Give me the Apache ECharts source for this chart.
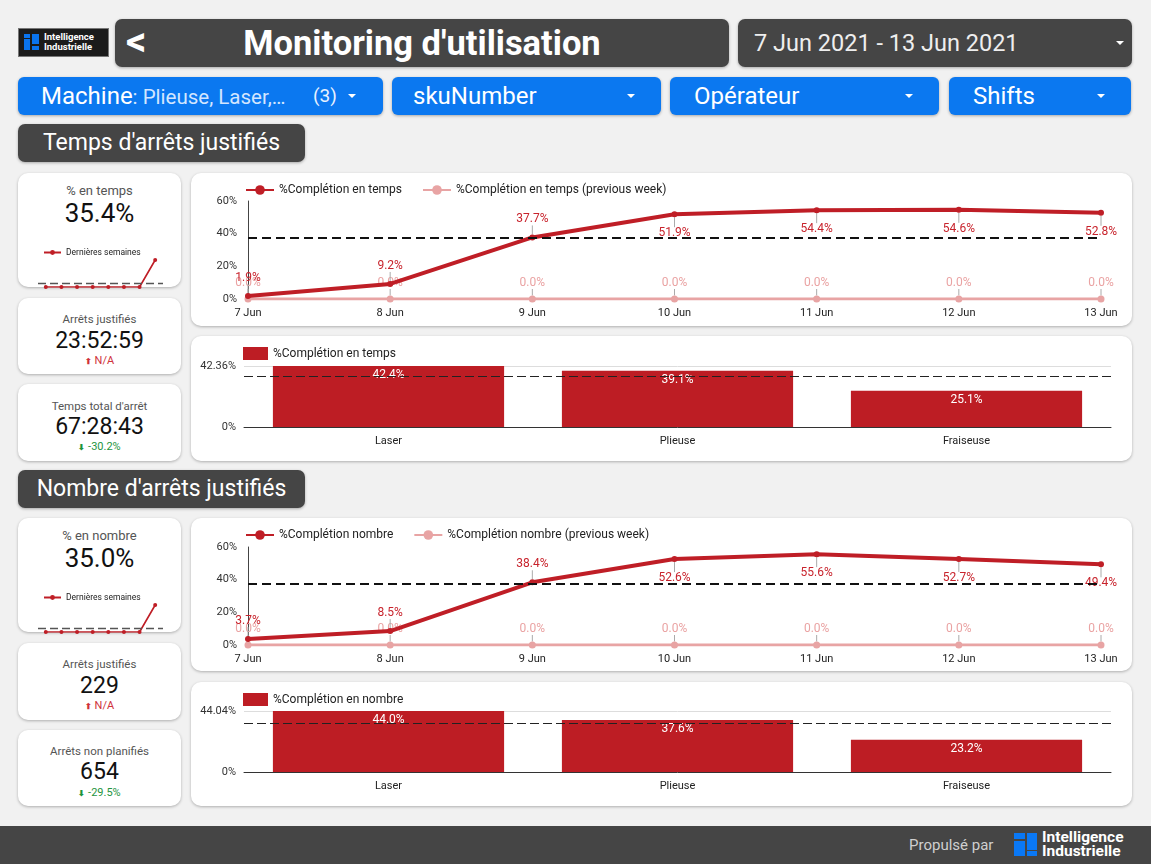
<!DOCTYPE html>
<html><head><meta charset="utf-8">
<script src="https://cdn.jsdelivr.net/npm/echarts@6/dist/echarts.min.js"></script>
<style>
*{box-sizing:border-box;margin:0;padding:0}
body{width:1151px;height:864px;background:#f1f1f1;font-family:Roboto,'Noto Sans',sans-serif;position:relative;overflow:hidden}
.abs{position:absolute}
.dark{background:#454545;border-radius:7px;color:#fff;box-shadow:0 1px 3px rgba(0,0,0,.3)}
.blue{background:#0b78f0;border-radius:6px;color:#fff;box-shadow:0 1px 3px rgba(0,0,0,.3)}
.card{background:#fff;border-radius:10px;box-shadow:0 1px 3px rgba(0,0,0,.28)}
.tri{position:absolute;width:0;height:0;border-left:4.5px solid transparent;border-right:4.5px solid transparent;border-top:4.5px solid #fff}
.kt{position:absolute;left:0;width:100%;text-align:center;line-height:1}
.blk{position:absolute;background:#0a74ee}
</style></head><body>

<!-- top logo -->
<div class="abs" style="left:18px;top:28px;width:91px;height:29px;background:#1b1b1b;border:1px solid #777">
  <div class="blk" style="left:5px;top:5px;width:6px;height:4px"></div>
  <div class="blk" style="left:5px;top:10px;width:6px;height:11px"></div>
  <div class="blk" style="left:13px;top:5px;width:7px;height:10px"></div>
  <div class="blk" style="left:13px;top:17px;width:7px;height:4px"></div>
  <div class="abs" style="left:25px;top:3px;color:#fff;font-weight:700;font-size:9.5px;line-height:10px">Intelligence<br>Industrielle</div>
</div>

<!-- title -->
<div class="abs dark" style="left:115px;top:19px;width:614px;height:48px">
  <div class="abs" style="left:11px;top:3px;font-size:40px;font-weight:700;line-height:40px">&lt;</div>
  <div class="abs" style="left:0;width:100%;top:5px;text-align:center;font-size:34.5px;font-weight:700;line-height:38px">Monitoring d'utilisation</div>
</div>
<div class="abs dark" style="left:738px;top:19px;width:394px;height:48px;color:#eee">
  <div class="abs" style="left:16px;top:10px;font-size:23.5px;line-height:28px">7 Jun 2021 - 13 Jun 2021</div>
  <div class="tri" style="left:378px;top:22px"></div>
</div>

<!-- filters -->
<div class="abs blue" style="left:18px;top:77px;width:365px;height:38px">
  <div class="abs" style="left:23px;top:5px;font-size:24px;line-height:28px;white-space:nowrap">Machine<span style="font-size:20.5px;color:#d3e6ff">: Plieuse, Laser,…</span></div>
  <div class="abs" style="left:295px;top:8px;font-size:19px;line-height:22px;color:#e8f1ff">(3)</div>
  <div class="tri" style="left:330px;top:17px"></div>
</div>
<div class="abs blue" style="left:392px;top:77px;width:269px;height:38px">
  <div class="abs" style="left:21px;top:5px;font-size:24px;line-height:28px">skuNumber</div>
  <div class="tri" style="left:235px;top:17px"></div>
</div>
<div class="abs blue" style="left:670px;top:77px;width:269px;height:38px">
  <div class="abs" style="left:24px;top:5px;font-size:24px;line-height:28px">Opérateur</div>
  <div class="tri" style="left:235px;top:17px"></div>
</div>
<div class="abs blue" style="left:949px;top:77px;width:182px;height:38px">
  <div class="abs" style="left:24px;top:5px;font-size:24px;line-height:28px">Shifts</div>
  <div class="tri" style="left:148px;top:17px"></div>
</div>

<!-- section 1 -->
<div class="abs dark" style="left:18px;top:124px;width:287px;height:38px">
  <div class="abs" style="left:0;width:100%;top:6px;text-align:center;font-size:23px;line-height:26px">Temps d'arrêts justifiés</div>
</div>
<div class="abs card" style="left:18px;top:173px;width:163px;height:114px">
  <div class="kt" style="top:11px;font-size:13px;color:#555">% en temps</div>
  <div class="kt" style="top:27px;font-size:26px;color:#111">35.4%</div>
</div>
<div class="abs card" style="left:18px;top:298px;width:163px;height:76px">
  <div class="kt" style="top:16px;font-size:11.5px;color:#555">Arrêts justifiés</div>
  <div class="kt" style="top:31px;font-size:23px;color:#111">23:52:59</div>
  <div class="kt" style="top:57px;font-size:11px;color:#d0313a"><span style="font-size:8px;font-weight:700">&#x2B06;</span> N/A</div>
</div>
<div class="abs card" style="left:18px;top:384px;width:163px;height:77px">
  <div class="kt" style="top:17px;font-size:11.5px;color:#555">Temps total d'arrêt</div>
  <div class="kt" style="top:31px;font-size:23px;color:#111">67:28:43</div>
  <div class="kt" style="top:57px;font-size:11px;color:#1e9440"><span style="font-size:8px;font-weight:700">&#x2B07;</span> -30.2%</div>
</div>
<div class="abs card" style="left:191px;top:173px;width:941px;height:153px"></div>
<div class="abs card" style="left:191px;top:336px;width:941px;height:125px"></div>

<!-- section 2 -->
<div class="abs dark" style="left:18px;top:470px;width:287px;height:38px">
  <div class="abs" style="left:0;width:100%;top:6px;text-align:center;font-size:23px;line-height:26px">Nombre d'arrêts justifiés</div>
</div>
<div class="abs card" style="left:18px;top:518px;width:163px;height:114px">
  <div class="kt" style="top:11px;font-size:13px;color:#555">% en nombre</div>
  <div class="kt" style="top:27px;font-size:26px;color:#111">35.0%</div>
</div>
<div class="abs card" style="left:18px;top:643px;width:163px;height:77px">
  <div class="kt" style="top:16px;font-size:11.5px;color:#555">Arrêts justifiés</div>
  <div class="kt" style="top:31px;font-size:23px;color:#111">229</div>
  <div class="kt" style="top:57px;font-size:11px;color:#d0313a"><span style="font-size:8px;font-weight:700">&#x2B06;</span> N/A</div>
</div>
<div class="abs card" style="left:18px;top:730px;width:163px;height:76px">
  <div class="kt" style="top:16px;font-size:11.5px;color:#555">Arrêts non planifiés</div>
  <div class="kt" style="top:30px;font-size:23px;color:#111">654</div>
  <div class="kt" style="top:57px;font-size:11px;color:#1e9440"><span style="font-size:8px;font-weight:700">&#x2B07;</span> -29.5%</div>
</div>
<div class="abs card" style="left:191px;top:518px;width:941px;height:153px"></div>
<div class="abs card" style="left:191px;top:682px;width:941px;height:124px"></div>

<!-- chart containers -->
<div id="spark1" class="abs" style="left:18px;top:173px;width:163px;height:118px"></div>
<div id="line1" class="abs" style="left:191px;top:173px;width:941px;height:153px"></div>
<div id="bar1" class="abs" style="left:191px;top:336px;width:941px;height:125px"></div>
<div id="spark2" class="abs" style="left:18px;top:518px;width:163px;height:118px"></div>
<div id="line2" class="abs" style="left:191px;top:518px;width:941px;height:153px"></div>
<div id="bar2" class="abs" style="left:191px;top:682px;width:941px;height:124px"></div>

<!-- footer -->
<div class="abs" style="left:0;top:826px;width:1151px;height:38px;background:#454545">
  <div class="abs" style="left:909px;top:10px;font-size:15px;color:#cfcfcf;line-height:18px">Propulsé par</div>
  <div class="blk" style="left:1014px;top:7px;width:11px;height:6px;background:#0a78f5"></div>
  <div class="blk" style="left:1014px;top:15px;width:11px;height:15px;background:#0a78f5"></div>
  <div class="blk" style="left:1027px;top:7px;width:10px;height:17px;background:#0a78f5"></div>
  <div class="blk" style="left:1027px;top:25px;width:10px;height:5px;background:#0a78f5"></div>
  <div class="abs" style="left:1042px;top:5px;color:#fff;font-weight:700;font-size:15.5px;line-height:13.5px">Intelligence<br>Industrielle</div>
</div>

<script>
// ---------- DATA ----------
const days = ['7 Jun','8 Jun','9 Jun','10 Jun','11 Jun','12 Jun','13 Jun'];
const tempsPct = [1.9, 9.2, 37.7, 51.9, 54.4, 54.6, 52.8];
const tempsPctPrev = [0, 0, 0, 0, 0, 0, 0];
const nombrePct = [3.7, 8.5, 38.4, 52.6, 55.6, 52.7, 49.4];
const nombrePctPrev = [0, 0, 0, 0, 0, 0, 0];
const machines = ['Laser', 'Plieuse', 'Fraiseuse'];
const tempsByMachine = [42.36, 39.1, 25.1];
const nombreByMachine = [44.04, 37.6, 23.2];
const tempsKpi = 35.4;
const nombreKpi = 35.0;
const weeks = ['S1','S2','S3','S4','S5','S6','S7','S8'];
const sparkTemps = [0, 0, 0, 0, 0, 0, 0, 35.4];
const sparkNombre = [0, 0, 0, 0, 0, 0, 0, 35.0];
const lineTicks = [0, 20, 40, 60];

const RED = '#bf1e26', PINK = '#e8a4a4';
const FONT = 'Roboto';

function lineChart(id, name, vals, prev, gridTop, gridBottom) {
  const c = echarts.init(document.getElementById(id));
  const layout = (arr, isPrev) => (p) => {
    const v = arr[p.dataIndex];
    const r = p.rect;
    const cx = r.x + r.width / 2, cy = r.y + r.height / 2;
    const above = isPrev || v < 45;
    return {
      x: cx, y: above ? cy - (isPrev ? 10 : 12) : cy + 13,
      align: 'center', verticalAlign: above ? 'bottom' : 'top'
    };
  };
  c.setOption({
    animation: false,
    textStyle: {fontFamily: FONT},
    legend: {
      left: 49, top: 6, itemWidth: 28, itemHeight: 12, itemGap: 20,
      textStyle: {fontSize: 12, color: '#222', fontFamily: FONT},
      data: [name, name + ' (previous week)']
    },
    grid: {left: 57, right: 31, top: gridTop, bottom: gridBottom},
    xAxis: {
      type: 'category', data: days, boundaryGap: false,
      axisLine: {show: false}, axisTick: {show: false},
      axisLabel: {color: '#222', fontSize: 11, margin: 9, fontFamily: FONT}
    },
    yAxis: {
      type: 'value', min: lineTicks[0], max: lineTicks[lineTicks.length - 1], interval: lineTicks[1] - lineTicks[0],
      axisLine: {show: true, lineStyle: {color: '#444', width: 1}},
      axisTick: {show: false}, splitLine: {show: false},
      axisLabel: {formatter: '{value}%', color: '#333', fontSize: 11, margin: 11, fontFamily: FONT}
    },
    series: [
      {
        name: name, type: 'line', data: vals, z: 3,
        symbol: 'circle', symbolSize: 6,
        lineStyle: {color: RED, width: 4}, itemStyle: {color: RED},
        label: {show: true, color: '#c8232c', fontSize: 12, fontFamily: FONT, formatter: p => p.value.toFixed(1) + '%'},
        labelLayout: layout(vals, false),
        labelLine: {show: true, lineStyle: {color: '#aaa', width: 1}},
        markLine: {
          silent: true, symbol: 'none', label: {show: false},
          lineStyle: {color: '#111', type: [9, 5], width: 2},
          data: [{type: 'average'}]
        }
      },
      {
        name: name + ' (previous week)', type: 'line', data: prev, z: 2,
        symbol: 'circle', symbolSize: 7,
        lineStyle: {color: PINK, width: 3}, itemStyle: {color: PINK},
        label: {show: true, color: '#eaa3a3', fontSize: 12, fontFamily: FONT, formatter: p => p.value.toFixed(1) + '%'},
        labelLayout: layout(prev, true),
        labelLine: {show: true, lineStyle: {color: '#aaa', width: 1}}
      }
    ]
  });
}

function barChart(id, name, vals, kpi, gridTop) {
  const c = echarts.init(document.getElementById(id));
  const mx = Math.max(...vals);
  c.setOption({
    animation: false,
    textStyle: {fontFamily: FONT},
    legend: {
      left: 47, top: 6, itemWidth: 25, itemHeight: 13,
      icon: 'rect',
      textStyle: {fontSize: 12, color: '#222', fontFamily: FONT},
      data: [name]
    },
    grid: {left: 53, right: 21, top: gridTop, bottom: 34},
    xAxis: {
      type: 'category', data: machines,
      axisLine: {show: true, lineStyle: {color: '#333', width: 1}}, axisTick: {show: false},
      axisLabel: {color: '#222', fontSize: 11, margin: 9, fontFamily: FONT}
    },
    yAxis: {
      type: 'value', min: 0, max: mx, interval: mx,
      axisLine: {show: false}, axisTick: {show: false},
      splitLine: {show: true, lineStyle: {color: '#ddd'}},
      axisLabel: {formatter: v => v + '%', color: '#333', fontSize: 11, margin: 8, fontFamily: FONT}
    },
    series: [{
      name: name, type: 'bar', data: vals, barWidth: '80%',
      itemStyle: {color: '#bd1d24'},
      label: {show: true, position: 'insideTop', distance: 3, color: '#fff', fontSize: 12, fontFamily: FONT,
        formatter: p => p.value.toFixed(1) + '%'},
      markLine: {
        silent: true, symbol: 'none', label: {show: false},
        lineStyle: {color: '#222', type: [9, 4], width: 1.2},
        data: [{yAxis: kpi}]
      }
    }]
  });
}

function spark(id, vals) {
  const c = echarts.init(document.getElementById(id));
  c.setOption({
    animation: false,
    legend: {
      left: 20, top: 70, itemWidth: 17, itemHeight: 6,
      textStyle: {fontSize: 8.5, color: '#222', fontFamily: FONT},
      data: ['Dernières semaines']
    },
    grid: {left: 20, right: 18, top: 87, bottom: 4},
    xAxis: {type: 'category', data: weeks, show: false},
    yAxis: {type: 'value', min: 0, max: Math.max(...vals), show: false},
    series: [{
      name: 'Dernières semaines', type: 'line', data: vals,
      symbol: 'circle', symbolSize: 4,
      lineStyle: {color: RED, width: 1.6}, itemStyle: {color: RED},
      markLine: {
        silent: true, symbol: 'none', label: {show: false},
        lineStyle: {color: '#555', type: [8, 4], width: 1.3},
        data: [{type: 'average'}]
      }
    }]
  });
}

spark('spark1', sparkTemps);
spark('spark2', sparkNombre);
lineChart('line1', '%Complétion en temps', tempsPct, tempsPctPrev, 28, 27);
lineChart('line2', '%Complétion nombre', nombrePct, nombrePctPrev, 29, 26);
barChart('bar1', '%Complétion en temps', tempsByMachine, tempsKpi, 30);
barChart('bar2', '%Complétion en nombre', nombreByMachine, nombreKpi, 29);
</script>
</body></html>
